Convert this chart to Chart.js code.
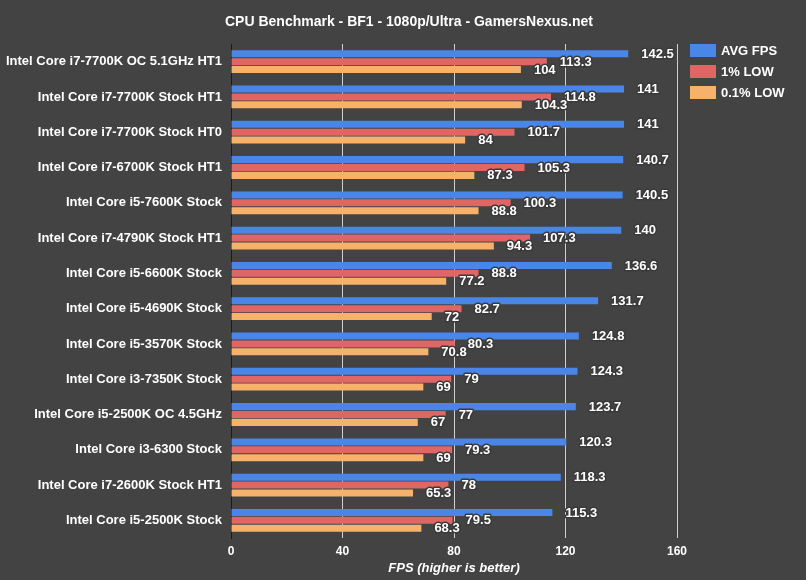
<!DOCTYPE html>
<html>
<head>
<meta charset="utf-8">
<script src="https://cdn.jsdelivr.net/npm/chart.js@4/dist/chart.umd.min.js"></script>
<style>
  html, body { margin: 0; padding: 0; background: #434343; }
  #wrap { width: 806px; height: 580px; }
</style>
</head>
<body>
<div id="wrap"><canvas id="cpuChart" width="806" height="580"></canvas></div>
<script>
const chartTitle = 'CPU Benchmark - BF1 - 1080p/Ultra - GamersNexus.net';
const cpuNames = [
    'Intel Core i7-7700K OC 5.1GHz HT1',
    'Intel Core i7-7700K Stock HT1',
    'Intel Core i7-7700K Stock HT0',
    'Intel Core i7-6700K Stock HT1',
    'Intel Core i5-7600K Stock',
    'Intel Core i7-4790K Stock HT1',
    'Intel Core i5-6600K Stock',
    'Intel Core i5-4690K Stock',
    'Intel Core i5-3570K Stock',
    'Intel Core i3-7350K Stock',
    'Intel Core i5-2500K OC 4.5GHz',
    'Intel Core i3-6300 Stock',
    'Intel Core i7-2600K Stock HT1',
    'Intel Core i5-2500K Stock'
];
const avgFps = [142.5, 141, 141, 140.7, 140.5, 140, 136.6, 131.7, 124.8, 124.3, 123.7, 120.3, 118.3, 115.3];
const low1 = [113.3, 114.8, 101.7, 105.3, 100.3, 107.3, 88.8, 82.7, 80.3, 79, 77, 79.3, 78, 79.5];
const low01 = [104, 104.3, 84, 87.3, 88.8, 94.3, 77.2, 72, 70.8, 69, 67, 69, 65.3, 68.3];
const xTicks = [0, 40, 80, 120, 160];

const fontFamily = '"Liberation Sans", Arial, sans-serif';

// value labels next to each bar, white with a dark edge
const barLabels = {
    id: 'barLabels',
    afterDatasetsDraw(chart) {
        const ctx = chart.ctx;
        ctx.save();
        ctx.font = 'bold 13px ' + fontFamily;
        ctx.textAlign = 'left';
        ctx.textBaseline = 'middle';
        ctx.lineJoin = 'round';
        chart.data.datasets.forEach((ds, i) => {
            const meta = chart.getDatasetMeta(i);
            meta.data.forEach((bar, j) => {
                const txt = String(ds.data[j]);
                const x = bar.x + 13;
                const y = bar.y + 0.5;
                ctx.strokeStyle = '#3a3a3a';
                ctx.lineWidth = 3;
                ctx.strokeText(txt, x, y);
                ctx.fillStyle = '#ffffff';
                ctx.fillText(txt, x, y);
            });
        });
        ctx.restore();
    }
};

// title across the whole canvas + legend on the right of the plot
const frame = {
    id: 'frame',
    afterDraw(chart) {
        const ctx = chart.ctx;
        const area = chart.chartArea;
        ctx.save();
        ctx.fillStyle = '#ffffff';
        ctx.textBaseline = 'middle';
        ctx.textAlign = 'center';
        ctx.font = 'bold 14px ' + fontFamily;
        ctx.fillText(chartTitle, 409, 22);

        ctx.font = 'bold 13px ' + fontFamily;
        ctx.textAlign = 'left';
        chart.data.datasets.forEach((ds, i) => {
            const bx = area.right + 13;
            const by = area.top + i * 21;
            ctx.fillStyle = ds.backgroundColor;
            ctx.fillRect(bx, by, 26, 13);
            ctx.fillStyle = '#ffffff';
            ctx.fillText(ds.label, bx + 31, by + 7);
        });
        ctx.restore();
    }
};

const ctx = document.getElementById('cpuChart').getContext('2d');

new Chart(ctx, {
    type: 'bar',
    data: {
        labels: cpuNames,
        datasets: [
            {
                label: 'AVG FPS',
                data: avgFps,
                backgroundColor: '#4a86e8',
                borderWidth: 0
            },
            {
                label: '1% LOW',
                data: low1,
                backgroundColor: '#e06666',
                borderWidth: 0
            },
            {
                label: '0.1% LOW',
                data: low01,
                backgroundColor: '#f6b26b',
                borderWidth: 0
            }
        ]
    },
    plugins: [barLabels, frame],
    options: {
        indexAxis: 'y',
        responsive: false,
        animation: false,
        datasets: {
            bar: {
                categoryPercentage: 0.67,
                barPercentage: 0.89
            }
        },
        layout: {
            padding: { top: 44, right: 129, bottom: 4, left: 0 }
        },
        plugins: {
            title: { display: false },
            legend: { display: false },
            tooltip: { enabled: false }
        },
        scales: {
            x: {
                min: 0,
                max: 160,
                afterBuildTicks: function (scale) {
                    scale.ticks = xTicks.map(v => ({ value: v }));
                },
                afterFit: function (scale) {
                    scale.height = 38;
                },
                grid: {
                    color: '#d0d0d0',
                    drawTicks: false
                },
                border: { display: false },
                ticks: {
                    color: '#ffffff',
                    padding: 6,
                    font: { family: fontFamily, size: 12, weight: 'bold' }
                },
                title: {
                    display: true,
                    text: 'FPS (higher is better)',
                    color: '#ffffff',
                    padding: { top: 3, bottom: 0 },
                    font: { family: fontFamily, size: 13, weight: 'bold', style: 'italic' }
                }
            },
            y: {
                afterFit: function (scale) {
                    scale.width = 231;
                },
                grid: { display: false, drawTicks: false },
                border: { display: true, color: '#1a1a1a', width: 1 },
                ticks: {
                    color: '#ffffff',
                    padding: 9,
                    font: { family: fontFamily, size: 13, weight: 'bold' }
                }
            }
        }
    }
});
</script>
</body>
</html>
